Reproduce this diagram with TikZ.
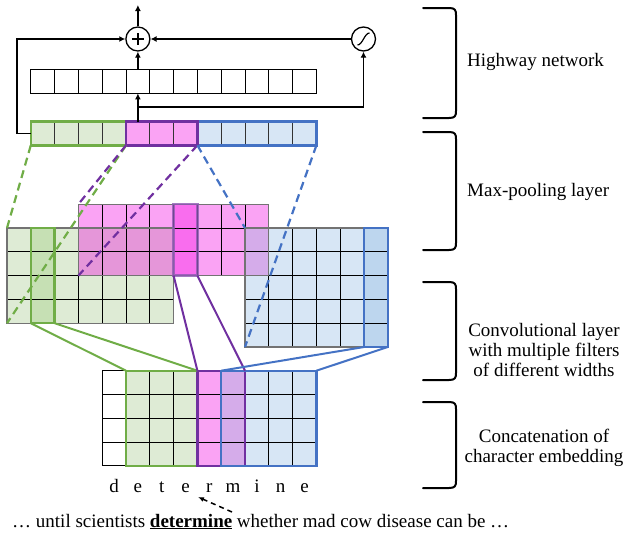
\documentclass[tikz,border=0pt]{standalone}
\usepackage{fontspec}
\setmainfont{Liberation Serif}
\usetikzlibrary{arrows.meta,calc}
\definecolor{gfill}{HTML}{DEEBD5}
\definecolor{ghl}{HTML}{C6E0B4}
\definecolor{mfill}{HTML}{FAA3F4}
\definecolor{mhl}{HTML}{F96DEE}
\definecolor{mgov}{HTML}{E596D9}
\definecolor{mbov}{HTML}{D5ACEA}
\definecolor{bfill}{HTML}{D7E6F5}
\definecolor{bhl}{HTML}{BDD6EE}
\definecolor{gline}{HTML}{70AD47}
\definecolor{pline}{HTML}{7030A0}
\definecolor{bline}{HTML}{4472C4}
\begin{document}
\begin{tikzpicture}[x=1pt,y=-1pt,
  gridc/.style={draw=black,line width=0.9pt},
  outer/.style={draw=black!55,line width=1.2pt},
  hlbox/.style={line width=2.4pt},
  conn/.style={line width=2pt},
  dconn/.style={line width=2.2pt,dash pattern=on 8pt off 5pt},
  arr/.style={line width=1.7pt,-{Latex[length=6pt,width=6pt]}},
  brk/.style={line width=2pt,line join=round,line cap=round},
  lbl/.style={font=\fontsize{19}{20}\selectfont,align=center,inner sep=0pt},
  opnode/.style={circle,draw,line width=1.3pt,minimum size=24pt,inner sep=0pt,fill=white}]
\useasboundingbox (0,0) rectangle (624,533);
\def\cw{23.8}

% ---------------- Highway network ----------------
\foreach \i in {1,...,12} \draw[gridc] ({7+\i*\cw},69.6) rectangle ++(\cw,\cw);
\node[opnode] (plus) at (137.9,39) {};
\draw[line width=1.2pt] ($(plus)+(-6,0)$) -- ($(plus)+(6,0)$);
\draw[line width=1.2pt] ($(plus)+(0,-6)$) -- ($(plus)+(0,6)$);
\node[opnode] (sig) at (363.5,39) {};
\draw[line width=1.2pt] ($(sig)+(-6,6)$) .. controls ($(sig)+(-1,6)$) and ($(sig)+(1,-6)$) .. ($(sig)+(6,-6)$);

\coordinate (hwtop) at (137.9,69.6);
\coordinate (hwbot) at (137.9,93.4);
\coordinate (mptop) at (137.9,121.5);
\coordinate (br) at (137.9,107);
\coordinate (mpleft) at (30.8,133.4);
\coordinate (loopc) at (17,133.4);
\coordinate (outc) at (137.9,5);

% ---------------- Max-pooling row ----------------
\fill[gfill] (30.8,121.5) rectangle ({7+5*\cw},145.3);
\fill[mfill] ({7+5*\cw},121.5) rectangle ({7+8*\cw},145.3);
\fill[bfill] ({7+8*\cw},121.5) rectangle ({7+13*\cw},145.3);
\foreach \i in {1,...,12} \draw[draw=black!80,line width=0.9pt] ({7+\i*\cw},121.5) rectangle ++(\cw,\cw);
\draw[hlbox,gline] (30.8,121.5) rectangle ({7+5*\cw},145.3);
\draw[hlbox,bline] ({7+8*\cw},121.5) rectangle ({7+13*\cw},145.3);
\draw[hlbox,pline] ({7+5*\cw},121.5) rectangle ({7+8*\cw},145.3);

% arrows of highway
\draw[arr] (mptop) -- (hwbot);
\draw[arr] (br) -| (sig.south);
\draw[arr] (hwtop) -- (plus.south);
\draw[arr] (sig.west) -- (plus.east);
\draw[arr] (mpleft) -- (loopc) |- (plus.west);
\draw[arr] (plus.north) -- (outc);

% ---------------- Convolutional layer ----------------
\fill[gfill] (7,228) rectangle ({7+7*\cw},{228+4*\cw});
\fill[mfill] ({7+3*\cw},204.2) rectangle ({7+11*\cw},{204.2+3*\cw});
\fill[mgov] ({7+3*\cw},228) rectangle ({7+7*\cw},{204.2+3*\cw});
\fill[bfill] ({7+10*\cw},228) rectangle ({7+16*\cw},{228+5*\cw});
\fill[mbov] ({7+10*\cw},228) rectangle ({7+11*\cw},{204.2+3*\cw});
\fill[ghl] ({7+1*\cw},228) rectangle ({7+2*\cw},{228+4*\cw});
\fill[mhl] ({7+7*\cw},204.2) rectangle ({7+8*\cw},{204.2+3*\cw});
\fill[bhl] ({7+15*\cw},228) rectangle ({7+16*\cw},{228+5*\cw});
\foreach \i in {0,...,6}\foreach \j in {0,...,3} \draw[gridc] ({7+\i*\cw},{228+\j*\cw}) rectangle ++(\cw,\cw);
\foreach \i in {3,...,10}\foreach \j in {0,...,2} \draw[gridc] ({7+\i*\cw},{204.2+\j*\cw}) rectangle ++(\cw,\cw);
\foreach \i in {10,...,15}\foreach \j in {0,...,4} \draw[gridc] ({7+\i*\cw},{228+\j*\cw}) rectangle ++(\cw,\cw);
\draw[outer] (7,228) rectangle ({7+7*\cw},{228+4*\cw});
\draw[outer] ({7+3*\cw},204.2) rectangle ({7+11*\cw},{204.2+3*\cw});
\draw[outer] ({7+10*\cw},228) rectangle ({7+16*\cw},{228+5*\cw});
\draw[hlbox,gline] ({7+1*\cw},228) rectangle ({7+2*\cw},{228+4*\cw});
\draw[hlbox,pline!80,opacity=0.8] ({7+7*\cw},204.2) rectangle ({7+8*\cw},{204.2+3*\cw});
\draw[hlbox,bline] ({7+15*\cw},228) rectangle ({7+16*\cw},{228+5*\cw});

% dashed projections
\coordinate (mpg1) at (30.8,145.3);
\coordinate (mpg2) at ({7+5*\cw},145.3);
\coordinate (mpm2) at ({7+8*\cw},145.3);
\coordinate (mpb2) at ({7+13*\cw},145.3);
\coordinate (cgtl) at (7,228);
\coordinate (cgbl) at (7,{228+4*\cw});
\coordinate (cmtl) at ({7+3*\cw},204.2);
\coordinate (cmbl) at ({7+3*\cw},{204.2+3*\cw});
\coordinate (cbtl) at ({7+10*\cw},228);
\coordinate (cbbl) at ({7+10*\cw},{228+5*\cw});
\draw[dconn,gline] (mpg1) -- (cgtl);
\draw[dconn,gline] (mpg2) -- (cgbl);
\draw[dconn,pline] (mpg2) -- (cmtl);
\draw[dconn,pline] (mpm2) -- (cmbl);
\draw[dconn,bline] (mpm2) -- (cbtl);
\draw[dconn,bline] (mpb2) -- (cbbl);

% ---------------- Character embedding ----------------
\def\ey{370.7}
\fill[gfill] ({7+5*\cw},\ey) rectangle ({7+8*\cw},{\ey+4*\cw});
\fill[mfill] ({7+8*\cw},\ey) rectangle ({7+9*\cw},{\ey+4*\cw});
\fill[mbov] ({7+9*\cw},\ey) rectangle ({7+10*\cw},{\ey+4*\cw});
\fill[bfill] ({7+10*\cw},\ey) rectangle ({7+13*\cw},{\ey+4*\cw});
\foreach \i in {4,...,12}\foreach \j in {0,...,3} \draw[gridc] ({7+\i*\cw},{\ey+\j*\cw}) rectangle ++(\cw,\cw);
\draw[hlbox,gline] ({7+5*\cw},\ey) rectangle ({7+8*\cw},{\ey+4*\cw});
\draw[hlbox,pline] ({7+8*\cw},\ey) rectangle ({7+10*\cw},{\ey+4*\cw});
\draw[hlbox,bline] ({7+9*\cw},\ey) rectangle ({7+13*\cw},{\ey+4*\cw});

% solid filter lines
\coordinate (cg1) at ({7+1*\cw},{228+4*\cw});
\coordinate (cg2) at ({7+2*\cw},{228+4*\cw});
\coordinate (cm1) at ({7+7*\cw},{204.2+3*\cw});
\coordinate (cm2) at ({7+8*\cw},{204.2+3*\cw});
\coordinate (cb1) at ({7+15*\cw},{228+5*\cw});
\coordinate (cb2) at ({7+16*\cw},{228+5*\cw});
\coordinate (eg1) at ({7+5*\cw},\ey);
\coordinate (eg2) at ({7+8*\cw},\ey);
\coordinate (em2) at ({7+10*\cw},\ey);
\coordinate (eb1) at ({7+9*\cw},\ey);
\coordinate (eb2) at ({7+13*\cw},\ey);
\draw[conn,gline] (cg1) -- (eg1);
\draw[conn,gline] (cg2) -- (eg2);
\draw[conn,pline] (cm1) -- (eg2);
\draw[conn,pline] (cm2) -- (em2);
\draw[conn,bline] (cb1) -- (eb1);
\draw[conn,bline] (cb2) -- (eb2);

% letters
\foreach \c [count=\k] in {d,e,t,e,r,m,i,n,e}
  \node[lbl,anchor=base] (ch\k) at ({7+(3.5+\k)*\cw},492) {\c};

% sentence
\node[lbl,anchor=base west] (sent) at (12,527) {\ldots{} until scientists \underline{\textbf{determine}} whether mad cow disease can be \ldots};
\coordinate (dtail) at (232,512);
\coordinate (dtip) at (198,497);
\draw[line width=1.5pt,dash pattern=on 5pt off 4pt,-{Latex[length=6pt,width=5pt]}] (dtail) -- (dtip);

% ---------------- Braces and labels ----------------
\foreach \t/\b in {8/118, 132/250, 282/380, 402/488}
  \draw[brk] (423,\t) -- (449,\t) .. controls (455,\t) and (456,\t+2) .. (456,\t+7) -- (456,\b-7) .. controls (456,\b-2) and (455,\b) .. (449,\b) -- (423,\b);

\node[lbl,anchor=west] (l1) at (467,62) {Highway network};
\node[lbl,anchor=west] (l2) at (467,192) {Max-pooling layer};
\node[lbl] (l3) at (544,350) {Convolutional layer\\with multiple filters\\of different widths};
\node[lbl] (l4) at (544,448) {Concatenation of\\character embedding};
\end{tikzpicture}
\end{document}
